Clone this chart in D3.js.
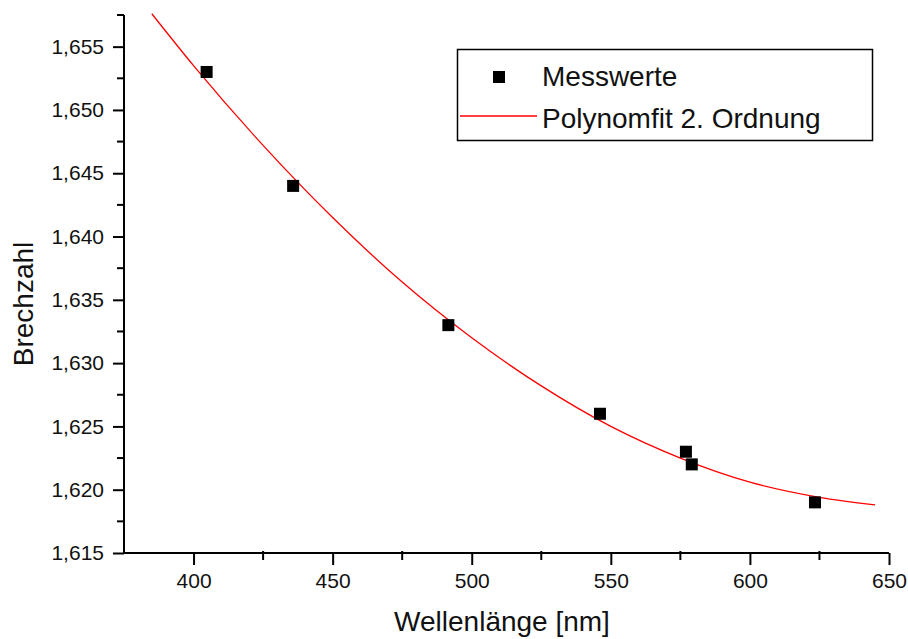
<!DOCTYPE html>
<html>
<head>
<meta charset="utf-8">
<script src="https://cdn.jsdelivr.net/npm/d3@7"></script>
<style>
  body { margin: 0; background: #fff; }
  svg { display: block; font-family: Arial, "Liberation Sans", sans-serif; }
</style>
</head>
<body>
<script>
// measured values (wavelength in nm, refractive index)
const wavelength = [404.7, 435.8, 491.6, 546.1, 577.0, 579.1, 623.4];
const index = [1.653, 1.644, 1.633, 1.626, 1.623, 1.622, 1.619];

// fit curve
const fitX = [385, 400, 425, 450, 475, 500, 525, 550, 575, 600, 625, 645];
const fitY = [1.6576, 1.6535, 1.6472, 1.6415, 1.6364, 1.6320, 1.6282, 1.6250, 1.6225, 1.6206, 1.6194, 1.6188];

// tick values
const xTicks = [400, 450, 500, 550, 600, 650];
const xMinor = [425, 475, 525, 575, 625];
const yTicks = [1.615, 1.620, 1.625, 1.630, 1.635, 1.640, 1.645, 1.650, 1.655];
const yMinor = [1.6175, 1.6225, 1.6275, 1.6325, 1.6375, 1.6425, 1.6475, 1.6525, 1.6575];

const width = 908;
const height = 639;
const plotLeft = 124, plotRight = 889, plotTop = 15, plotBottom = 553;

const x = d3.scaleLinear().domain([375, 650]).range([plotLeft, plotRight]);
const y = d3.scaleLinear().domain([1.615, 1.6575]).range([plotBottom, plotTop]);

const de = d3.formatLocale({ decimal: ',', thousands: '.', grouping: [3], currency: ['', ''] });
const fmt = de.format('.3f');

const svg = d3.select('body').append('svg')
  .attr('width', width)
  .attr('height', height);

svg.append('rect').attr('width', width).attr('height', height).attr('fill', '#fff');

// fit line
const line = d3.line()
  .x((d, i) => x(fitX[i]))
  .y((d) => y(d))
  .curve(d3.curveMonotoneX);

svg.append('path')
  .datum(fitY)
  .attr('d', line)
  .attr('fill', 'none')
  .attr('stroke', '#ff0000')
  .attr('stroke-width', 1.3);

// data points
const size = 12;
svg.selectAll('rect.pt')
  .data(wavelength)
  .join('rect')
  .attr('class', 'pt')
  .attr('x', (d) => x(d) - size / 2)
  .attr('y', (d, i) => y(index[i]) - size / 2)
  .attr('width', size)
  .attr('height', size)
  .attr('fill', '#000');

// axes
const gx = svg.append('g').attr('transform', `translate(0,${plotBottom})`);
gx.call(d3.axisBottom(x).tickValues(xTicks).tickSize(12).tickPadding(8).tickFormat(d3.format('d')));
gx.selectAll('.tick line').attr('stroke-width', 2);
gx.selectAll('.tick text').attr('font-size', 21).attr('fill', '#111').attr('font-family', 'Arial, "Liberation Sans", sans-serif');
gx.select('.domain').attr('stroke-width', 2).attr('d', `M${plotLeft},0H${plotRight}`);

gx.selectAll('line.minor')
  .data(xMinor)
  .join('line')
  .attr('class', 'minor')
  .attr('x1', (d) => x(d)).attr('x2', (d) => x(d))
  .attr('y1', -2).attr('y2', 7)
  .attr('stroke', '#000').attr('stroke-width', 2);

const gy = svg.append('g').attr('transform', `translate(${plotLeft},0)`);
gy.call(d3.axisLeft(y).tickValues(yTicks).tickSize(11).tickPadding(9).tickFormat(fmt));
gy.selectAll('.tick line').attr('stroke-width', 2);
gy.selectAll('.tick text').attr('font-size', 21).attr('fill', '#111').attr('font-family', 'Arial, "Liberation Sans", sans-serif');
gy.select('.domain').attr('stroke-width', 2).attr('d', `M0,${plotBottom + 1}V${plotTop}`);

gy.selectAll('line.minor')
  .data(yMinor)
  .join('line')
  .attr('class', 'minor')
  .attr('y1', (d) => y(d)).attr('y2', (d) => y(d))
  .attr('x1', -7).attr('x2', 0)
  .attr('stroke', '#000').attr('stroke-width', 2);

// axis titles
svg.append('text')
  .attr('x', 502)
  .attr('y', 631)
  .attr('text-anchor', 'middle')
  .attr('font-size', 28)
  .attr('fill', '#111')
  .text('Wellenlänge [nm]');

svg.append('text')
  .attr('transform', 'translate(33,304) rotate(-90)')
  .attr('text-anchor', 'middle')
  .attr('font-size', 28)
  .attr('fill', '#111')
  .text('Brechzahl');

// legend
const lg = svg.append('g');
lg.append('rect')
  .attr('x', 457.5).attr('y', 49.5)
  .attr('width', 415).attr('height', 91)
  .attr('fill', '#fff')
  .attr('stroke', '#000')
  .attr('stroke-width', 1.5);
lg.append('rect')
  .attr('x', 499 - 6).attr('y', 77 - 6)
  .attr('width', 12).attr('height', 12)
  .attr('fill', '#000');
lg.append('text')
  .attr('x', 542).attr('y', 86)
  .attr('font-size', 28).attr('fill', '#111')
  .text('Messwerte');
lg.append('line')
  .attr('x1', 460).attr('x2', 537)
  .attr('y1', 116).attr('y2', 116)
  .attr('stroke', '#ff0000').attr('stroke-width', 1.3);
lg.append('text')
  .attr('x', 542).attr('y', 128)
  .attr('font-size', 28).attr('fill', '#111')
  .text('Polynomfit 2. Ordnung');
</script>
</body>
</html>
